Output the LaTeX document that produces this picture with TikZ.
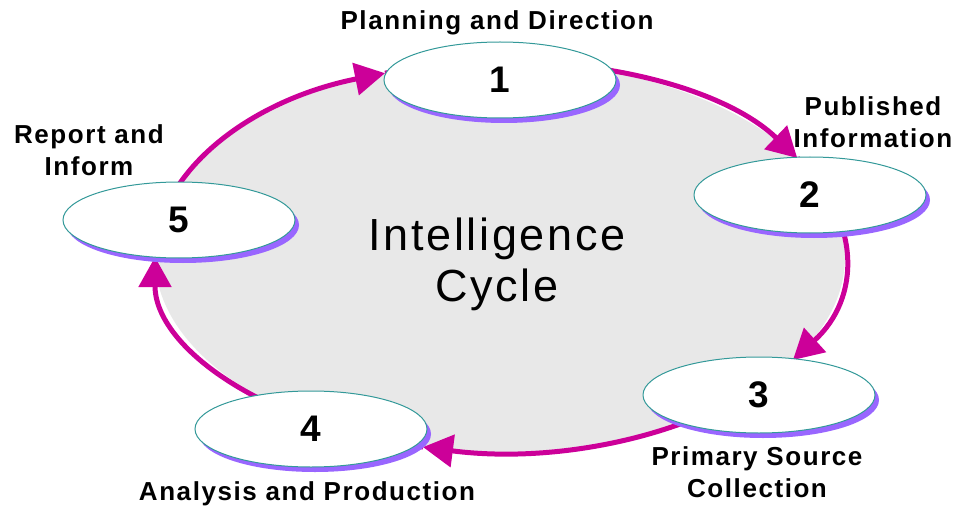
\documentclass[tikz,border=0pt]{standalone}
\usepackage{fontspec}
\setmainfont{Liberation Sans}
\newfontfamily\lblfont[LetterSpace=6]{Liberation Sans}
\usetikzlibrary{shapes.geometric,shadows,arrows.meta,calc}
\definecolor{plum}{RGB}{204,0,153}
\definecolor{rim}{RGB}{51,153,153}
\definecolor{lilac}{RGB}{153,102,255}
\definecolor{ringgray}{RGB}{232,232,232}

\begin{document}
\begin{tikzpicture}[x=1pt,y=1pt,
    ring/.style={ellipse,fill=ringgray,minimum width=690pt,minimum height=390pt,inner sep=0pt},
    stage/.style={ellipse,draw=rim,line width=1pt,fill=white,minimum width=232pt,minimum height=76pt,inner sep=0pt,
      font=\lblfont\bfseries\fontsize{37}{37}\selectfont,
      drop shadow={shadow xshift=4pt,shadow yshift=-5pt,fill=lilac,opacity=1}},
    caption/.style={font=\lblfont\bfseries\fontsize{26}{32}\selectfont,align=center,inner sep=0pt},
    title/.style={font=\lblfont\fontsize{45}{51}\selectfont,align=center,inner sep=0pt},
    flow/.style={draw=plum,line width=5pt,-{Triangle[length=30pt,width=32pt]}}]
	\useasboundingbox (0,0) rectangle (956,-508);
	%RING
	\node[ring] (ring) at (500,-257) {};
	\coordinate (p1) at ($(ring.center)+(109.47:345 and 195)$);
	\coordinate (p2) at ($(ring.center)+(30.5:345 and 195)$);
	\coordinate (p3) at ($(ring.center)+(-31.9:345 and 195)$);
	\coordinate (p4) at ($(ring.center)+(-102.9:345 and 195)$);
	\coordinate (p5) at ($(ring.center)+(180:345 and 195)$);
	\draw[flow] (p1) arc[start angle=109.47,end angle=30.5,x radius=345,y radius=195];
	\draw[flow] (p2) arc[start angle=30.5,end angle=-31.9,x radius=345,y radius=195];
	\draw[flow] (p3) arc[start angle=-31.9,end angle=-102.9,x radius=345,y radius=195];
	\draw[flow] (p4) arc[start angle=-102.9,end angle=-180,x radius=345,y radius=195];
	\draw[flow] (p5) arc[start angle=180,end angle=109.47,x radius=345,y radius=195];
	%STAGES
	\node[stage] (n1) at (500,-80) {1};
	\node[stage] (n2) at (810,-195) {2};
	\node[stage] (n3) at (759,-395) {3};
	\node[stage] (n4) at (311,-429) {4};
	\node[stage] (n5) at (179,-220) {5};
	%LABELS
	\node[caption,anchor=base] (l1) at (497,-30) {Planning and Direction};
	\node[caption] (l2) at (873,-122) {Published\\Information};
	\node[caption] (l3) at (757,-472) {Primary Source\\Collection};
	\node[caption,anchor=base] (l4) at (307,-500) {Analysis and Production};
	\node[caption] (l5) at (89,-150) {Report and\\Inform};
	\node[title] (cycle) at (497,-264) {Intelligence\\Cycle};
\end{tikzpicture}
\end{document}
